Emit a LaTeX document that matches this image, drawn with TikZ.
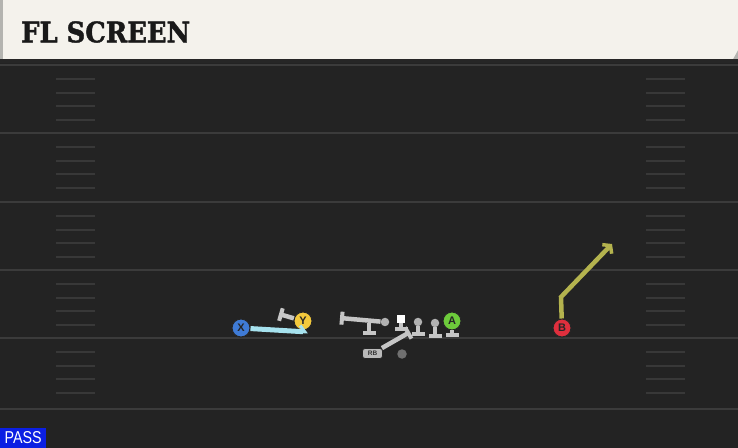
\documentclass[tikz,border=0pt]{standalone}
\usepackage{fontspec}
\setsansfont{Liberation Sans}
\newfontfamily\headfont{DejaVu Serif}[BoldFeatures={FakeBold=1.5}]
\usepackage{tikz}
\usetikzlibrary{arrows.meta}
\definecolor{fieldbg}{HTML}{232323}
\definecolor{yardgray}{HTML}{3B3B3B}
\definecolor{hashgray}{HTML}{383838}
\definecolor{headcream}{HTML}{F4F2EC}
\definecolor{headedge}{HTML}{B4B4B0}
\definecolor{blockgray}{HTML}{C6C6C6}
\definecolor{olgray}{HTML}{B2B2B2}
\definecolor{qbgray}{HTML}{707070}
\definecolor{xblue}{HTML}{3F7BD6}
\definecolor{yyellow}{HTML}{F3C93C}
\definecolor{agreen}{HTML}{6DCB3B}
\definecolor{bred}{HTML}{DF2F3D}
\definecolor{xroute}{HTML}{A6E2EE}
\definecolor{broute}{HTML}{B4B34E}
\definecolor{passblue}{HTML}{0B1FE3}
\tikzset{
  player/.style={circle,draw=black!85,line width=1bp,inner sep=0,minimum size=18bp,
    text=black!85,font=\sffamily\bfseries\fontsize{11bp}{11bp}\selectfont},
  lineman/.style={circle,fill=olgray,inner sep=0,minimum size=8.5bp},
  centersq/.style={rectangle,fill=white,inner sep=0,minimum size=8bp},
  rbbox/.style={rectangle,rounded corners=2.5bp,fill=olgray!90,draw=black!85,line width=0.8bp,
    inner sep=0,minimum width=20bp,minimum height=10bp,text=black!80,
    font=\sffamily\bfseries\fontsize{6.5bp}{6.5bp}\selectfont},
  qbdot/.style={circle,fill=qbgray,inner sep=0,minimum size=9.5bp},
  block/.style={draw=blockgray,line width=4.5bp,-{Bar[width=13bp,line width=4bp]}},
  xrun/.style={draw=xroute,line width=5bp,-{Straight Barb[left,length=5bp,width=12bp,line width=3bp]}},
  brun/.style={draw=broute,line width=4.5bp,line join=miter,-{Straight Barb[length=5bp,width=13bp,line width=3.5bp]}},
  yardline/.style={draw=yardgray,line width=2bp},
  hashmark/.style={draw=hashgray,line width=1.6bp}
}
\newcommand{\hashleft}{56}
\newcommand{\hashright}{646}
\newcommand{\hashlen}{39}

\begin{document}
\begin{tikzpicture}[x=1bp,y=-1bp]
\useasboundingbox (0,0) rectangle (738,448);

% field
\fill[fieldbg] (0,0) rectangle (738,448);
\fill[black!85] (0,59) rectangle (738,63);
\foreach \yl in {65,133,202,270,338,409}
  \draw[yardline] (0,\yl) -- (738,\yl);
\foreach \yl in {65,133,202,270,338}
  \foreach \dy in {14,28,41,55} {
    \draw[hashmark] (\hashleft,\yl+\dy) -- ++(\hashlen,0);
    \draw[hashmark] (\hashright,\yl+\dy) -- ++(\hashlen,0);
  }

% header
\fill[headedge] (0,0) rectangle (3,59);
\fill[headedge] (733,50) rectangle (738,59);
\fill[headcream] (3,0) -- (738,0) -- (738,50) -- (733,59) -- (3,59) -- cycle;
\node[anchor=west,inner sep=0,text=black!90] (title) at (21,32)
  {\resizebox{169bp}{21bp}{\headfont\bfseries FL SCREEN}};

% players
\node[player,fill=xblue] (x_rec) at (241,328) {X};
\node[player,fill=yyellow] (y_rec) at (303,321) {Y};
\node[lineman] (lg) at (385,322) {};
\coordinate (lt) at (369,323);
\node[centersq] (c_sq) at (401,319) {};
\node[lineman] (rg) at (418,322) {};
\node[lineman] (rt) at (435,323) {};
\node[player,fill=agreen] (a_rec) at (452,321) {A};
\node[player,fill=bred] (b_rec) at (562,328) {B};
\node[rbbox] (rb) at (372.5,353.5) {RB};
\node[qbdot] (qb) at (402,354) {};

% route and block ends
\coordinate (x_end) at (308,332);
\coordinate (y_bar) at (279,314);
\coordinate (lg_bar) at (340,318);
\coordinate (lt_bar) at (369,335);
\coordinate (c_bar) at (401,331);
\coordinate (rg_bar) at (418,336);
\coordinate (rt_bar) at (435,338);
\coordinate (a_bar) at (452,337);
\coordinate (rb_bar) at (410,332);
\coordinate (b_kink) at (561,297);
\coordinate (b_end) at (612,244);

\draw[block] (lg) -- (lg_bar);
\draw[block] (lt) -- (lt_bar);
\draw[block] (c_sq) -- (c_bar);
\draw[block] (rg) -- (rg_bar);
\draw[block] (rt) -- (rt_bar);
\draw[block] (a_rec) -- (a_bar);
\draw[block] (y_rec) -- (y_bar);
\draw[block] (rb) -- (rb_bar);
\draw[xrun] (x_rec) -- (x_end);
\draw[brun] (b_rec) -- (b_kink) -- (b_end);

% play type
\node[anchor=south west,fill=passblue,inner sep=0,minimum width=46bp,minimum height=20bp,text=white] (pass_tag) at (0,448)
  {\resizebox{37bp}{12bp}{\sffamily PASS}};

\end{tikzpicture}
\end{document}
